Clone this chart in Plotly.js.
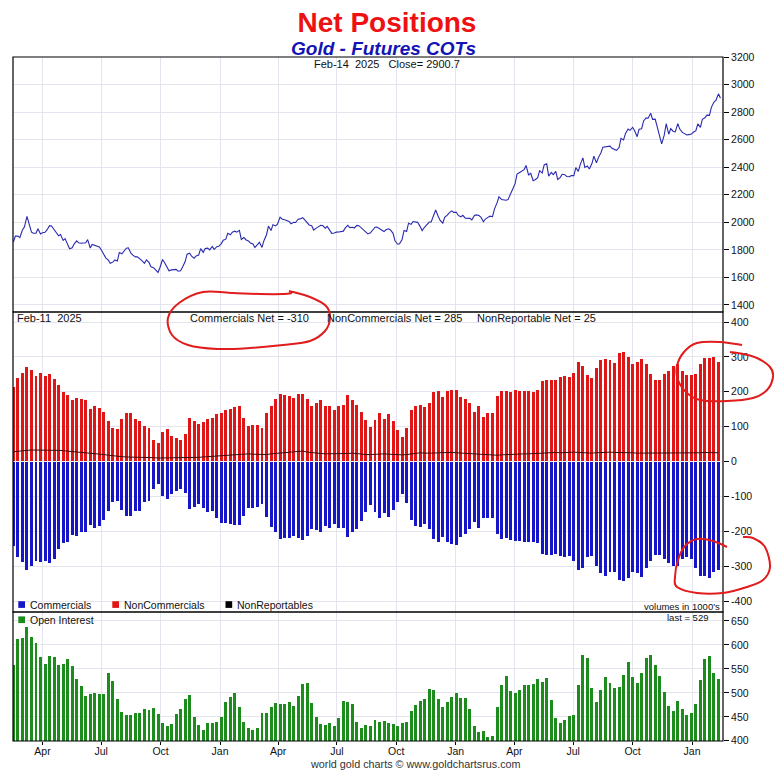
<!DOCTYPE html>
<html>
<head>
<meta charset="utf-8">
<script src="https://cdn.plot.ly/plotly-3.0.1.min.js"></script>
<style>html,body{margin:0;padding:0;background:#fff;}#chart{width:774px;height:771px;}</style>
</head>
<body>
<div id="chart"></div>
<script>
// ---------------- DATA ----------------
// COT report dates: weekly Tuesdays, first Feb-15-2022, last Feb-11-2025 (157 reports)
const cotFirstDate = '2022-02-15';
const cotCount = 157;

// Net positions (thousands of contracts)
const commercials = [
 -243,-274,-288,-310,-300,-286,-288,-286,-291,-280,-251,-234,-231,-211,-214,-202,-202,-182,-191,-185,
 -168,-142,-117,-114,-139,-157,-157,-142,-142,-117,-114,-79,-65,-99,-108,-94,-85,-79,-91,-137,
 -131,-122,-134,-145,-142,-162,-177,-177,-180,-182,-182,-157,-134,-134,-131,
 -122,-160,-188,-202,-223,-220,-220,-214,-220,-225,-214,-194,-197,-202,-185,-191,-180,-191,-191,-217,
 -202,-194,-171,-145,-125,-145,-162,-148,-160,-139,-117,-94,-119,-168,-185,-188,-180,-194,-223,-231,
 -217,-231,-237,-240,-217,-208,-194,-174,-191,-162,-162,-162,-208,-223,-220,
 -225,-228,-228,-232,-232,-232,-235,-264,-267,-269,-266,-272,-275,-272,-284,-312,-304,-275,-272,-299,
 -321,-327,-316,-316,-339,-344,-333,-316,-321,-330,-304,-285,-269,-268,-280,-290,-301,-301,-280,-275,
 -280,-304,-329,-327,-333,-316,-310
];
const nonCommercials = [
 213,240,255,272,261,246,255,244,252,238,218,198,192,176,183,178,175,152,160,154,
 143,117,95,92,123,140,140,123,117,103,97,63,52,86,92,74,66,63,80,126,
 115,109,112,123,126,135,140,149,152,155,158,126,103,106,106,
 97,138,158,180,195,192,189,183,195,195,178,160,169,175,158,160,149,160,163,192,
 175,163,143,120,100,120,138,123,135,115,89,69,95,149,160,163,155,169,198,201,
 186,201,206,206,186,178,169,143,160,129,138,140,189,201,201,
 199,206,201,201,201,199,204,230,235,235,233,241,244,242,253,285,273,247,239,268,
 290,293,291,282,310,313,299,281,284,295,279,252,233,235,250,259,274,279,260,247,
 247,252,279,298,298,301,285
];
const nonReportables = [
 28,30,31,32,33,33,33,34,33,33,32,31,30,29,28,27,26,24,22,21,
 20,18,16,15,14,13,13,12,12,12,11,11,10,10,10,10,10,10,10,11,
 11,12,13,14,15,16,18,19,20,21,21,22,22,21,20,19,20,22,23,24,
 25,26,27,28,30,27,25,24,23,22,22,21,22,22,23,24,22,21,20,20,
 21,22,22,21,20,19,19,20,22,24,25,24,23,24,25,26,27,26,25,24,
 23,22,21,20,19,19,18,18,19,20,20,21,22,22,22,23,23,24,25,26,
 26,25,26,27,27,26,25,24,24,25,26,27,27,26,26,27,26,25,24,24,
 24,23,23,23,24,24,25,25,25,24,24,25,25,26,26,25,25
];
const openInterest = [
 558,612,615,637,617,604,575,560,577,575,558,560,571,556,529,515,494,498,500,498,
 498,542,525,488,460,454,454,458,458,467,465,469,456,438,431,435,456,467,488,496,
 450,433,423,438,438,440,450,481,492,500,471,440,427,423,427,
 458,458,471,479,477,477,481,473,494,519,521,479,450,435,433,438,431,448,483,481,
 477,440,427,433,431,444,440,442,438,435,431,438,440,463,475,483,488,508,506,488,
 471,481,492,500,490,490,467,431,419,421,408,410,471,517,535,
 504,500,506,517,517,518,529,522,531,485,448,438,444,451,454,517,579,573,510,481,
 506,533,521,510,513,538,565,533,521,542,573,579,558,535,502,473,463,483,467,454,
 458,477,527,571,576,542,529
];
// Gold futures close on each report Tuesday (Feb-15-2022 .. Feb-11-2025)
const goldTue = [
 1856,1900,1944,2043,1929,1921,1916,1928,1976,1949,1903,1869,1841,1815,1866,1848,1852,1813,1833,1821,
 1764,1725,1711,1719,1772,1812,1776,1749,1736,1702,1709,1671,1636,1730,1676,1655,1658,1649,1715,1776,
 1740,1763,1782,1813,1825,1823,
 1846,1878,1910,1936,1942,1890,1865,1843,1836,1818,1910,1941,1974,2038,2019,2007,2000,2023,2034,1995,
 1975,1958,1979,1958,1946,1923,1930,1936,1978,1964,1978,1960,1935,1924,1965,1953,1933,1953,1920,1841,
 1876,1934,1985,2000,1969,1966,2002,2052,2043,1994,2052,2083,
 2073,2040,2030,2029,2050,2049,2004,2039,2041,2141,2166,2160,2201,2281,2362,2383,2342,2302,2324,2358,
 2425,2362,2370,2327,2346,2331,2339,2370,2468,2409,2427,2432,2505,2547,2553,2526,2543,2598,2678,2690,
 2622,2680,2758,2792,2749,2616,2633,2640,2660,2717,2653,2634,2641,
 2665,2690,2759,2777,2873,2933
];
// Gold futures close at the end of each week (Feb-18-2022 .. Feb-14-2025)
const goldFri = [
 1900,1889,1966,1985,1921,1954,1924,1945,1974,1934,1911,1882,1808,1842,1851,1850,1875,1840,1830,1801,
 1742,1703,1727,1781,1791,1815,1762,1749,1722,1728,1677,1655,1672,1709,1648,1656,1645,1676,1769,1754,
 1756,1809,1810,1800,1804,1826,
 1870,1921,1928,1929,1876,1874,1850,1817,1855,1867,1973,1983,1986,2025,2015,1990,1999,2025,2019,1981,
 1944,1969,1977,1971,1920,1929,1932,1960,1962,1959,1976,1946,1916,1940,1966,1942,1946,1945,1866,1845,
 1941,1994,2006,2000,1940,1984,2003,2090,2014,2036,2069,2072,
 2050,2051,2029,2018,2054,2038,2024,2045,2096,2186,2162,2165,2238,2350,2374,2413,2358,2309,2375,2417,
 2335,2346,2311,2349,2333,2339,2397,2421,2399,2387,2480,2470,2546,2547,2537,2523,2610,2646,2668,2667,
 2676,2736,2756,2748,2697,2570,2716,2681,2657,2677,2645,2637,
 2654,2715,2748,2778,2835,2886,2900.7
];
const goldFirstFriday = '2022-02-18';

const priceTicks = [1400,1600,1800,2000,2200,2400,2600,2800,3000,3200];
const netTicks = [-400,-300,-200,-100,0,100,200,300,400];
const netTickText = ['-400','-300','-200','-100','0','100','200','300','400'];
const oiTicks = [400,450,500,550,600,650];

// ---------------- BUILD ----------------
function weeklyDates(startISO, n){
  const t0 = Date.parse(startISO + 'T00:00:00Z');
  const out = [];
  for (let i = 0; i < n; i++) out.push(new Date(t0 + i*7*864e5).toISOString().slice(0,10));
  return out;
}
const cotDates = weeklyDates(cotFirstDate, cotCount);
const friDates = weeklyDates(goldFirstFriday, goldFri.length);
const goldDates = [], goldClose = [];
for (let i = 0; i < Math.max(goldTue.length, goldFri.length); i++){
  if (i < goldTue.length){ goldDates.push(cotDates[i]); goldClose.push(goldTue[i]); }
  if (i < goldFri.length){ goldDates.push(friDates[i]); goldClose.push(goldFri[i]); }
}

const F = 'Liberation Sans, Arial, sans-serif';
const GRID = '#e4e4ee';
const W = 774, H = 771;
const L = 13, R = 723, T = 57, B = 741;
const px = x => (x - L) / (R - L);
const py = y => (B - y) / (B - T);
const dTop = py(312), dMid = py(612);
const barW = 4.6 * 864e5;

const traces = [
  {type:'scatter', mode:'lines', x:goldDates, y:goldClose, xaxis:'x', yaxis:'y',
   line:{color:'#2a2ab0', width:1.1}, hoverinfo:'x+y', name:'Gold'},
  {type:'bar', x:cotDates, y:nonCommercials, xaxis:'x', yaxis:'y2', width:barW,
   marker:{color:'#e01616', line:{width:0}}, name:'NonCommercials'},
  {type:'bar', x:cotDates, y:commercials, xaxis:'x', yaxis:'y2', width:barW,
   marker:{color:'#1616c8', line:{width:0}}, name:'Commercials'},
  {type:'scatter', mode:'lines', x:cotDates, y:nonReportables, xaxis:'x', yaxis:'y2',
   line:{color:'#3a0a0a', width:1}, name:'NonReportables'},
  {type:'bar', x:cotDates, y:openInterest, xaxis:'x', yaxis:'y3', width:barW,
   marker:{color:'#1c8c1c', line:{width:0}}, name:'Open Interest'}
];

function ann(text, x, y, size, xanchor, color, extra){
  return Object.assign({text:text, x:px(x), y:py(y), xref:'paper', yref:'paper',
    xanchor:xanchor||'center', yanchor:'middle', showarrow:false,
    font:{family:F, size:size, color:color||'#111'}}, extra||{});
}
const annotations = [
  ann('<b><i>Gold - Futures COTs</i></b>', 383, 49, 19, 'center', '#1414b4'),
  ann('Feb-14&nbsp;&nbsp;2025&nbsp;&nbsp;&nbsp;Close= 2900.7', 386.5, 64, 11),
  ann('Feb-11&nbsp;&nbsp;2025', 15, 318, 11, 'left'),
  ann('Commercials Net = -310', 249, 318, 11),
  ann('NonCommercials Net = 285', 395, 318, 11),
  ann('NonReportable Net = 25', 536.5, 318, 11),
  ann('Commercials', 27.5, 604.5, 10.5, 'left'),
  ann('NonCommercials', 121.5, 604.5, 10.5, 'left'),
  ann('NonReportables', 234.5, 604.5, 10.5, 'left'),
  ann('Open Interest', 27.5, 619.7, 10.5, 'left'),
  ann("volumes in 1000's", 722, 606.5, 9.5, 'right'),
  ann('last = 529', 687.7, 617, 9.5),
  ann('world gold charts © www.goldchartsrus.com', 415.5, 764, 10.8, 'center', '#333', {borderpad:0})
];

function box(x0, y0, x1, y1, color){
  return {type:'rect', xref:'paper', yref:'paper', x0:px(x0), x1:px(x1), y0:py(y1), y1:py(y0),
    fillcolor:color, line:{width:0}, layer:'above'};
}
function smoothPath(pts){
  const P = pts.map(p => [px(p[0]), py(p[1])]);
  let d = 'M' + P[0][0] + ',' + P[0][1];
  for (let i = 0; i < P.length - 1; i++){
    const p0 = P[i-1] || P[i], p1 = P[i], p2 = P[i+1], p3 = P[i+2] || P[i+1];
    const c1 = [p1[0] + (p2[0]-p0[0])/6, p1[1] + (p2[1]-p0[1])/6];
    const c2 = [p2[0] - (p3[0]-p1[0])/6, p2[1] - (p3[1]-p1[1])/6];
    d += ' C' + c1[0] + ',' + c1[1] + ' ' + c2[0] + ',' + c2[1] + ' ' + p2[0] + ',' + p2[1];
  }
  return d;
}
const inkA = [[289,291],[310,297],[326,306],[330,318],[325,331],[310,341],[283,345],[250,348],[217,349],[188,345],[172,335],[168,318],[179,303],[203,292],[233,293],[260,294],[284,294],[292,293]];
const inkB = [[742,345],[720,342],[697,343],[684,352],[677,366],[678,380],[687,393],[700,400],[727,401],[753,398],[767,390],[773,377],[770,367],[757,358],[743,354],[730,352]];
const inkC = [[727,547],[713,541],[697,539],[685,546],[678,560],[675,577],[677,587],[697,593],[723,593],[747,587],[763,580],[770,567],[765,547],[753,538],[743,537]];
const ink = p => ({type:'path', xref:'paper', yref:'paper', path:smoothPath(p),
  line:{color:'#e01c1c', width:2}, layer:'above'});

const shapes = [
  {type:'line', xref:'paper', yref:'y2', x0:0, x1:1, y0:0, y1:0, line:{color:'#f2eef4', width:1.2}, layer:'above'},
  {type:'rect', xref:'paper', yref:'paper', x0:0, x1:1, y0:dTop, y1:1, line:{color:'#000', width:1.2}, layer:'above'},
  {type:'rect', xref:'paper', yref:'paper', x0:0, x1:1, y0:dMid, y1:dTop, line:{color:'#000', width:1.2}, layer:'above'},
  {type:'rect', xref:'paper', yref:'paper', x0:0, x1:1, y0:0, y1:dMid, line:{color:'#000', width:1.2}, layer:'above'},
  box(18.3, 601.2, 25, 607.9, '#1616c8'),
  box(112.3, 601.2, 119, 607.9, '#e01616'),
  box(225.5, 601.2, 232.2, 607.9, '#000'),
  box(18.3, 616.4, 25, 623.1, '#1c8c1c'),
  ink(inkA), ink(inkB), ink(inkC)
];

const yCommon = {side:'right', anchor:'x', showgrid:true, gridcolor:GRID, gridwidth:1, zeroline:false,
  ticks:'outside', ticklen:5, tickwidth:1, tickcolor:'#000', showline:false,
  tickfont:{family:F, size:10.5, color:'#111'}, fixedrange:true};

const layout = {
  width:W, height:H,
  margin:{l:L, r:W-R, t:T, b:H-B, pad:0},
  paper_bgcolor:'#fff', plot_bgcolor:'#fff',
  showlegend:false, barmode:'overlay', bargap:0,
  font:{family:F, size:11, color:'#111'},
  title:{text:'<b>Net Positions</b>', font:{family:F, size:28, color:'#ee1111'},
    x:0.5, xanchor:'center', xref:'container', y:1-22/H, yanchor:'middle', yref:'container'},
  xaxis:{type:'date', range:['2022-02-14 09:00','2025-02-18'], anchor:'y3',
    dtick:'M3', tick0:'2022-01-01', tickformat:'%b', showgrid:true, gridcolor:GRID, gridwidth:1,
    ticks:'outside', ticklen:3, tickcolor:'#000', zeroline:false, showline:false,
    ticklabelstandoff:-3,
    tickfont:{family:F, size:10.5, color:'#111'}, fixedrange:true},
  yaxis:Object.assign({}, yCommon, {domain:[dTop,1], range:[1349,3200.5], tickvals:priceTicks}),
  yaxis2:Object.assign({}, yCommon, {domain:[dMid,dTop], range:[-431.5,428.7], tickvals:netTicks, ticktext:netTickText}),
  yaxis3:Object.assign({}, yCommon, {domain:[0,dMid], range:[399.6,668.75], tickvals:oiTicks}),
  annotations:annotations,
  shapes:shapes
};

Plotly.newPlot('chart', traces, layout, {displayModeBar:false, staticPlot:true});
</script>
</body>
</html>
